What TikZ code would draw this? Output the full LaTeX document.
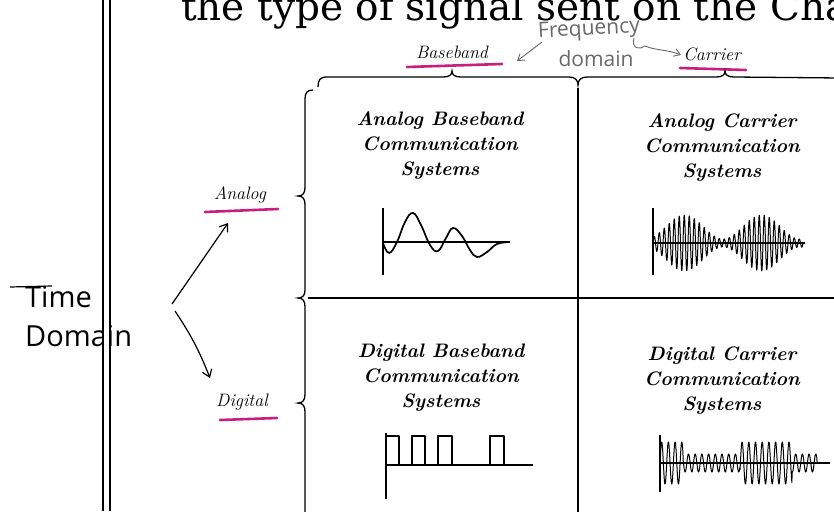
\documentclass[tikz,border=0pt]{standalone}
\usepackage{fontspec}
\newfontfamily\handfont{Open Sans}
\newfontfamily\headfont{DejaVu Serif}
\usetikzlibrary{arrows.meta}

\definecolor{hilite}{RGB}{200,30,125}
\definecolor{pencilgray}{RGB}{105,105,105}

\begin{document}
\begin{tikzpicture}[x=1pt,y=-1pt,
  celltext/.style={font=\fontsize{19.5}{25}\selectfont\bfseries\itshape, align=center, inner sep=0pt},
  tagtext/.style={font=\fontsize{18}{20}\selectfont\itshape, inner sep=0pt},
  hiline/.style={draw=hilite, line width=2.6pt, line cap=round},
  gridline/.style={line width=1.8pt},
  bracepath/.style={line width=1.3pt},
  axisline/.style={line width=1.2pt},
  wave/.style={line width=1.7pt, line join=round},
  wavethin/.style={line width=1.0pt, line join=round},
  handtext/.style={font=\handfont\fontsize{29}{32}\selectfont, inner sep=0pt},
  penciltext/.style={font=\handfont\fontsize{21}{24}\selectfont, text=pencilgray, inner sep=0pt},
  handarrow/.style={line width=1.2pt, -{Straight Barb[length=7pt,width=10pt]}},
  pencilarrow/.style={draw=pencilgray, line width=0.9pt, -{Straight Barb[length=6pt,width=8pt]}}
]
\useasboundingbox (0,0) rectangle (834,511);
\clip (0,0) rectangle (834,511);
\fill[white] (0,0) rectangle (834,511);

% heading line, running off the top and right edges
\node[anchor=base west, inner sep=0pt, font=\headfont\fontsize{39}{39}\selectfont] (title) at (181,21) {the type of signal sent on the Cha};

% time-domain note on the left margin
\node[handtext, anchor=west] (time) at (25,297) {Time};
\draw[line width=1.2pt] (10,287) -- (52,286);
\node[handtext, anchor=west] (domain) at (25,336) {Domain};

% double margin rule
\fill[white] (102,0) rectangle (111,511);
\draw[line width=1.5pt] (103,0) -- (103,511);
\draw[line width=1.5pt] (110,0) -- (110,511);

% frequency-domain note at the top
\node[penciltext, rotate=3] (freq) at (589,30) {Frequency};
\node[penciltext] (fdom) at (596,59) {domain};

% column and row labels
\node[tagtext] (baseband) at (452,52) {Baseband};
\node[tagtext] (carrier) at (712,54) {Carrier};
\node[tagtext] (analog) at (240,195) {Analog};
\node[tagtext] (digital) at (242,402) {Digital};

\draw[hiline] (407,67) -- (502,64);
\draw[hiline] (680,68) -- (746,70);
\draw[hiline] (205,212) -- (278,209);
\draw[hiline] (220,420) -- (277,418);

% pencil arrows from the frequency note
\coordinate (fqL) at (542,42);
\coordinate (fqLend) at (517,61);
\coordinate (fqR) at (645,46);
\coordinate (fqRend) at (681,55);
\draw[pencilarrow] (fqL) -- (fqLend);
\draw[draw=pencilgray, line width=0.9pt] (634,38) .. controls (631,49) and (640,50) .. (fqR);
\draw[pencilarrow] (fqR) .. controls (657,51) and (666,49) .. (fqRend);

% arrows from the time note to the two kinds of signal
\coordinate (fork) at (172,304);
\coordinate (fork2) at (175,311);
\coordinate (toA) at (228,223);
\coordinate (toD) at (210,378);
\draw[handarrow] (fork) -- (toA);
\draw[handarrow] (fork2) to[bend left=6] (toD);

% braces
\draw[bracepath] (318,87) .. controls (318,80) and (320,77) .. (327,77) -- (443,77)
  .. controls (449,77) and (452,75) .. (452,71) .. controls (452,75) and (455,77) .. (461,77)
  -- (569,77) .. controls (575,77) and (578,80) .. (578,85)
  .. controls (578,80) and (581,77) .. (587,77) -- (716,77)
  .. controls (722,77) and (725,75) .. (725,71) .. controls (725,75) and (728,77) .. (734,77)
  -- (840,78);
\draw[bracepath] (313,90) .. controls (307,90) and (305,93) .. (305,99) -- (305,187)
  .. controls (305,193) and (303,196) .. (298,196) .. controls (303,196) and (305,199) .. (305,205)
  -- (305,290) .. controls (305,295) and (303,298) .. (298,298)
  .. controls (303,298) and (305,301) .. (305,307) -- (305,394)
  .. controls (305,400) and (303,403) .. (298,403) .. controls (303,403) and (305,406) .. (305,412)
  -- (305,515);

% table grid
\draw[gridline] (578,88) -- (578,515);
\draw[gridline] (308,298) -- (840,298);

% cell titles
\node[celltext] (ab) at (440,146) {Analog Baseband\\Communication\\Systems};
\node[celltext] (ac) at (722,148) {Analog Carrier\\Communication\\Systems};
\node[celltext] (db) at (441,378) {Digital Baseband\\Communication\\Systems};
\node[celltext] (dc) at (722,381) {Digital Carrier\\Communication\\Systems};

% analog baseband: damped oscillation
\draw[axisline] (383,208) -- (383,275);
\draw[axisline] (383,242) -- (510,242);
\draw[wave] plot[smooth, tension=0.7] coordinates {(383,243) (389,253) (397,242) (405,222) (413,213) (421,225) (430,245) (438,251) (446,238) (453,228) (462,236) (470,250) (477,257) (487,252) (497,244) (510,242)};

% analog carrier: amplitude-modulated sine
\draw[axisline] (653,208) -- (653,275);
\draw[axisline] (653,243) -- (805,243);
\draw[wavethin] plot[domain=0:150, samples=751, variable=\u]
  ({653+\u},{243 - (4+24*pow(sin((\u+7)/77*180),2))*sin(72*\u)});

% digital baseband: pulse train
\draw[axisline] (386,433) -- (386,499);
\draw[axisline] (386,465) -- (533,465);
\draw[wave] (386,436) -- (399,436) -- (399,465) -- (412,465) -- (412,436) -- (425,436) -- (425,465)
  -- (438,465) -- (438,436) -- (452,436) -- (452,465) -- (490,465) -- (490,436) -- (504,436)
  -- (504,465) -- (533,465);

% digital carrier: amplitude-keyed sine
\draw[axisline] (660,435) -- (660,492);
\draw[axisline] (660,463) -- (830,463);
\draw[wavethin] plot[domain=0:170, samples=1001, variable=\u]
  ({660+\u},{463 - ((\u<157)*(9+12*((\u<23)+(\u>=80)*(\u<132))))*sin(\u/6.7*360)});
\end{tikzpicture}
\end{document}
